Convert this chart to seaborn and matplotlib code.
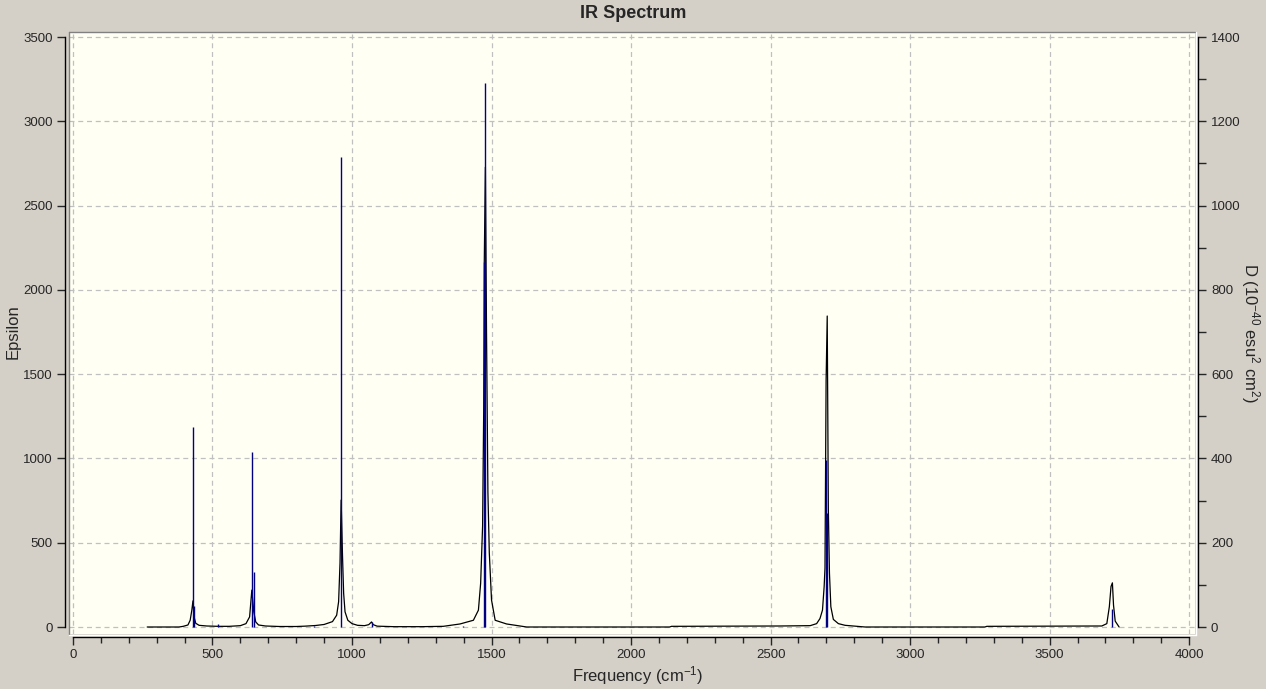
import numpy as np
import pandas as pd
import matplotlib
matplotlib.use("Agg")
import matplotlib.pyplot as plt
import seaborn as sns
from matplotlib.lines import Line2D
from matplotlib.ticker import MultipleLocator

# ---------- data ----------
# broadened spectrum (Epsilon, left axis)
curve_freq = [266, 380, 395, 412, 420, 426, 430, 434, 440, 452, 480, 520, 560, 600, 620,
              633, 641, 648, 655, 665, 690, 740, 800, 831, 870, 900, 930, 945, 952, 957,
              961, 966, 970, 975, 985, 1000, 1020, 1045, 1060, 1070, 1076, 1090, 1150, 1250,
              1327, 1387, 1435, 1453, 1461, 1468, 1472, 1474, 1478, 1482, 1487, 1492, 1500,
              1513, 1554, 1626, 2138, 2145, 2534, 2642, 2665, 2677, 2686, 2692, 2695, 2699,
              2703, 2707, 2711, 2716, 2725, 2743, 2767, 2803, 2839, 3268, 3275, 3687, 3705,
              3714, 3720, 3725, 3729, 3735, 3749]
curve_eps = [0, 0, 4, 12, 40, 100, 155, 60, 22, 10, 6, 4, 4, 8, 20,
             60, 219, 90, 30, 12, 6, 3, 3, 5, 9, 15, 32, 70, 150, 380,
             753, 420, 200, 90, 40, 20, 10, 8, 14, 30, 14, 5, 2, 2,
             4, 18, 40, 100, 260, 600, 1300, 2165, 2728, 1760, 800, 440, 160,
             40, 18, 0, 0, 4, 6, 8, 20, 50, 100, 240, 350, 1465,
             1845, 700, 320, 120, 45, 20, 10, 5, 0, 0, 4, 6, 20,
             120, 240, 262, 130, 35, 0]

# stick spectrum (D, right axis)
stick_freq = [430, 432, 521, 643, 650, 864, 961, 1072, 1398, 1474, 1478, 2700, 2703, 3723]
stick_D = [474, 50, 7, 415, 130, 2, 1115, 13, 3, 866, 1291, 396, 270, 43]

spec = pd.DataFrame({"Frequency": curve_freq, "Epsilon": curve_eps})

# ---------- style ----------
sns.set_style("ticks")
plt.rcParams["font.family"] = ["Liberation Sans", "DejaVu Sans"]
plt.rcParams["mathtext.fontset"] = "custom"
plt.rcParams["mathtext.rm"] = "Liberation Sans"
plt.rcParams["mathtext.it"] = "Liberation Sans:italic"

bg = "#D4D0C8"
W, H = 1266, 689
fig = plt.figure(figsize=(W / 100, H / 100), dpi=100, facecolor=bg)

# plot area in pixels: x 68.5..1195, y 31.5..634
ax = fig.add_axes([68.5 / W, 1 - 634 / H, (1195 - 68.5) / W, (634 - 31.5) / H])
ax.set_facecolor("#FFFFF4")

ax.set_xlim(-16, 4021)
ax.set_ylim(-41.5, 3533)

# grid
for gx in range(0, 4001, 500):
    ax.axvline(gx, color="#C0C0C0", lw=0.9, ls=(0, (4, 3)), zorder=0)
for gy in range(0, 3501, 500):
    ax.axhline(gy, color="#C0C0C0", lw=0.9, ls=(0, (4, 3)), zorder=0)

sns.lineplot(data=spec, x="Frequency", y="Epsilon", ax=ax, color="black",
             lw=0.9, sort=False, zorder=3)

# right axis with sticks
ax2 = ax.twinx()
ax2.set_ylim(-16.6, 1413.2)
ax2.vlines(stick_freq, 0, stick_D, color="#000080", lw=1.0, zorder=2)

# ---------- axes look ----------
for s in ["top", "right"]:
    ax.spines[s].set_visible(False)
for s in ["top", "left", "bottom"]:
    ax2.spines[s].set_visible(False)

off = 2.5
ax.spines["left"].set_position(("outward", off))
ax.spines["left"].set_bounds(0, 3500)
ax.spines["bottom"].set_position(("outward", off))
ax.spines["bottom"].set_bounds(0, 4000)
ax2.spines["right"].set_position(("outward", off))
ax2.spines["right"].set_bounds(0, 1400)
for sp in [ax.spines["left"], ax.spines["bottom"], ax2.spines["right"]]:
    sp.set_linewidth(1.0)
    sp.set_color("black")

ax.set_xticks(range(0, 4001, 500))
ax.xaxis.set_minor_locator(MultipleLocator(100))
ax.set_yticks(range(0, 3501, 500))
ax2.set_yticks(range(0, 1401, 200))
ax2.yaxis.set_minor_locator(MultipleLocator(100))

ax.tick_params(axis="y", direction="out", length=5.5, width=1, pad=3.5, labelsize=9.5)
ax.tick_params(axis="x", which="major", direction="out", length=6, width=1, pad=2.5,
               labelsize=9.5)
ax.tick_params(axis="x", which="minor", direction="out", length=4, width=1)
ax2.tick_params(axis="y", which="both", direction="out", length=6, width=1, pad=3,
                labelsize=9.5)

ax.set_xlabel("")
ax.set_ylabel("")

# sunken border of the plot area
fig.add_artist(Line2D([68.5 / W, 1195 / W], [1 - 31.5 / H] * 2, color="#808080", lw=1))
fig.add_artist(Line2D([68.5 / W] * 2, [1 - 31.5 / H, 1 - 634 / H], color="#808080", lw=1))
fig.add_artist(Line2D([68.5 / W, 1195.5 / W], [1 - 634.5 / H] * 2, color="white", lw=1))
fig.add_artist(Line2D([1195.5 / W] * 2, [1 - 31.5 / H, 1 - 634.5 / H], color="white", lw=1))

# ---------- texts ----------
fig.text(633 / W, 1 - 14 / H, "IR Spectrum", ha="center", va="center",
         fontsize=13, fontweight="bold")
fig.text(13 / W, 1 - 332 / H, "Epsilon", ha="center", va="center", rotation=90,
         fontsize=12)
fig.text(638 / W, 1 - 676 / H, "Frequency (cm$^{-1}$)", ha="center", va="center",
         fontsize=12)
fig.text(1250 / W, 1 - 333 / H, "D (10$^{-40}$ esu$^{2}$ cm$^{2}$)", ha="center",
         va="center", rotation=270, fontsize=12)

fig.savefig("out.png", dpi=100, facecolor=bg)
